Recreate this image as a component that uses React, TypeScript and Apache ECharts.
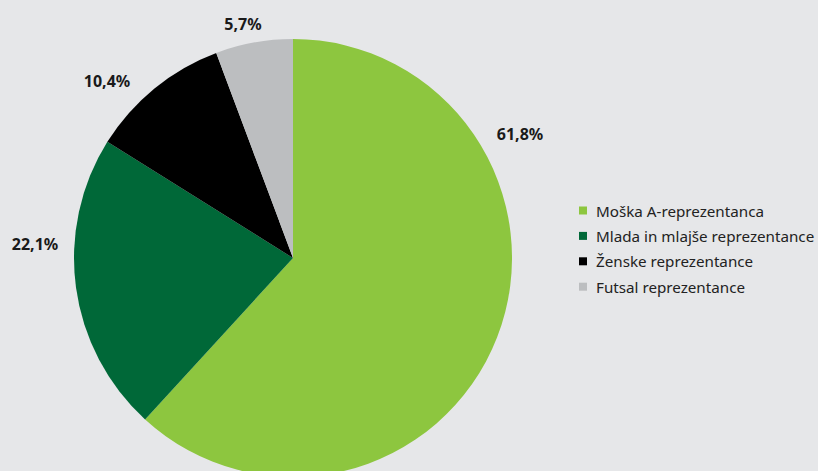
import React, { useEffect, useRef } from "react";
import * as echarts from "echarts";

const categories = [
  "Moška A-reprezentanca",
  "Mlada in mlajše reprezentance",
  "Ženske reprezentance",
  "Futsal reprezentance",
];
const values = [61.8, 22.1, 10.4, 5.7];
const colors = ["#8dc63f", "#006838", "#000000", "#bcbec0"];
const labelPositions: [number, number][] = [
  [520, 134],
  [35, 244],
  [107, 81],
  [243, 24],
];

export default function App() {
  const ref = useRef<HTMLDivElement>(null);
  useEffect(() => {
    if (!ref.current) return;
    const chart = echarts.init(ref.current, undefined, { renderer: "svg" });
    chart.setOption({
      animation: false,
      backgroundColor: "#e6e7e9",
      textStyle: { fontFamily: "'Noto Sans', sans-serif" },
      legend: {
        orient: "vertical",
        left: 579,
        top: 203,
        padding: 0,
        itemWidth: 8,
        itemHeight: 8,
        itemGap: 10.4,
        icon: "rect",
        data: categories,
        textStyle: {
          fontSize: 15.2,
          color: "#222",
          fontFamily: "'Noto Sans', sans-serif",
          padding: [0, 0, 0, 4],
        },
      },
      series: [
        {
          type: "pie",
          center: [293, 258],
          radius: 219,
          startAngle: 90,
          clockwise: true,
          silent: true,
          data: categories.map((name, i) => ({
            name,
            value: values[i],
            itemStyle: { color: colors[i] },
          })),
          label: {
            show: true,
            position: "outside",
            overflow: "none",
            formatter: (p: any) => String(p.value).replace(".", ",") + "%",
            fontSize: 16,
            fontWeight: "bold",
            color: "#1a1a1a",
            fontFamily: "'Noto Sans', sans-serif",
          },
          labelLine: { show: false },
          labelLayout: (params: any) => {
            const pos = labelPositions[params.dataIndex];
            return { x: pos[0], y: pos[1], align: "center", verticalAlign: "middle" };
          },
        },
      ],
    });
    return () => chart.dispose();
  }, []);
  return (
    <div
      ref={ref}
      style={{ position: "fixed", left: 0, top: 0, width: 818, height: 471 }}
    />
  );
}
